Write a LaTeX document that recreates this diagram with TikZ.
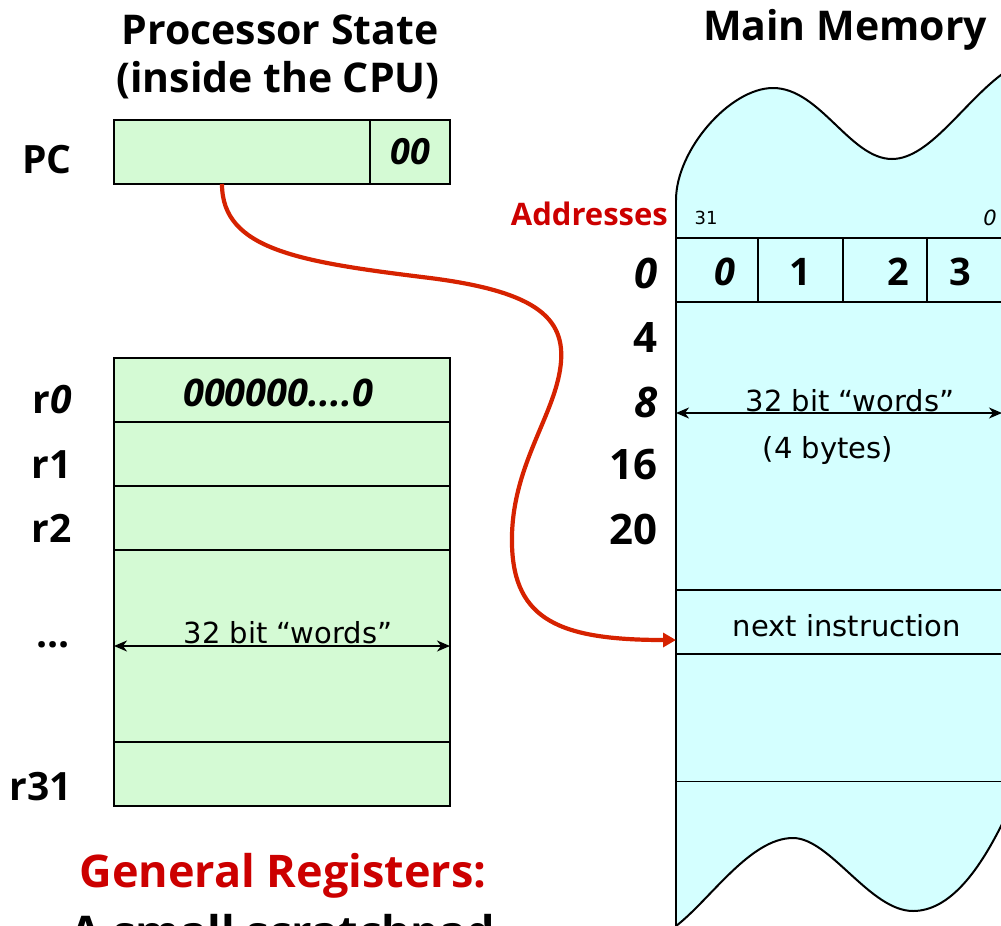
\documentclass[tikz,border=0pt]{standalone}
\usepackage{fontspec}
\setmainfont{Open Sans}
\newfontfamily\thinfont{DejaVu Sans}
\usetikzlibrary{arrows.meta}
\definecolor{regfill}{RGB}{212,250,212}
\definecolor{memfill}{RGB}{212,255,255}
\definecolor{redtxt}{RGB}{204,0,0}
\definecolor{redarrow}{RGB}{214,34,0}
\tikzset{
  cell/.style={draw, line width=2.2pt, fill=regfill, anchor=north west, inner sep=0pt, outer sep=0pt},
  mcell/.style={draw, line width=2pt, anchor=north west, inner sep=0pt, outer sep=0pt},
  title/.style={font=\bfseries\fontsize{41}{45}\selectfont},
  lbl/.style={font=\bfseries\fontsize{39}{43}\selectfont, anchor=east, inner sep=0pt},
  addr/.style={font=\bfseries\fontsize{42}{46}\selectfont, anchor=east, inner sep=0pt},
  thin/.style={font=\thinfont\fontsize{29}{32}\selectfont, inner sep=0pt},
  dim/.style={line width=1.6pt, {Stealth[length=13pt,width=11pt,inset=4pt]}-{Stealth[length=13pt,width=11pt,inset=4pt]}},
}
\begin{document}
\begin{tikzpicture}[x=1pt,y=-1pt]
\useasboundingbox (0,0) rectangle (1001,926);
\clip (0,0) rectangle (1001,926);

% titles
\node[title] (t1) at (280,30) {Processor State};
\node[title] (t2) at (278,80) {(inside the CPU)};
\node[title] (t3) at (845,30) {Main Memory};

% PC
\node[cell, minimum width=256pt, minimum height=64pt] (pc) at (114,120) {};
\node[cell, minimum width=80pt, minimum height=64pt] (pclow) at (370,120) {};
\node[font=\bfseries\itshape\fontsize{36}{40}\selectfont] (pcbits) at (pclow.center) {00};
\node[lbl] (pclbl) at (72,160) {PC};

% registers
\node[cell, minimum width=336pt, minimum height=64pt] (r0) at (114,358) {};
\node[cell, minimum width=336pt, minimum height=64pt] (r1) at (114,422) {};
\node[cell, minimum width=336pt, minimum height=64pt] (r2) at (114,486) {};
\node[cell, minimum width=336pt, minimum height=192pt] (rd) at (114,550) {};
\node[cell, minimum width=336pt, minimum height=64pt] (r31) at (114,742) {};
\node[font=\bfseries\itshape\fontsize{38}{42}\selectfont] (zeros) at (278,393) {000000....0};
\node[lbl] (l0) at (72,400) {r\textit{0}};
\node[lbl] (l1) at (72,465) {r1};
\node[lbl] (l2) at (72,528) {r2};
\node[lbl] (ld) at (70,645) {...};
\node[lbl] (l31) at (72,787) {r31};
\draw[dim] (rd.west) -- (rd.east);
\node[thin, anchor=base] (rw) at (288,643) {32 bit “words”};

\node[font=\bfseries\fontsize{45}{50}\selectfont, text=redtxt] (gr) at (283,876) {General Registers:};
\node[font=\bfseries\fontsize{45}{50}\selectfont, anchor=base] (gs) at (283,948) {A small scratchpad};

% main memory body
\fill[memfill] (676,200) .. controls (676,150) and (730,88) .. (773,88)
   .. controls (820,88) and (850,159) .. (892,159)
   .. controls (930,159) and (965,100) .. (1005,72)
   -- (1005,818)
   .. controls (980,870) and (950,911) .. (913,911)
   .. controls (870,911) and (830,838) .. (793,838)
   .. controls (750,838) and (710,900) .. (676,926) -- cycle;
\draw[line width=2pt] (676,200) .. controls (676,150) and (730,88) .. (773,88)
   .. controls (820,88) and (850,159) .. (892,159)
   .. controls (930,159) and (965,100) .. (1005,72);
\draw[line width=2pt] (1005,818)
   .. controls (980,870) and (950,911) .. (913,911)
   .. controls (870,911) and (830,838) .. (793,838)
   .. controls (750,838) and (710,900) .. (676,926);

\node[mcell, minimum width=82pt, minimum height=64pt] (b0) at (676,238) {};
\node[mcell, minimum width=85pt, minimum height=64pt] (b1) at (758,238) {};
\node[mcell, minimum width=84pt, minimum height=64pt] (b2) at (843,238) {};
\node[mcell, minimum width=90pt, minimum height=64pt] (b3) at (927,238) {};
\node[font=\bfseries\itshape\fontsize{38}{42}\selectfont] (bl0) at (725,272) {0};
\node[font=\bfseries\fontsize{38}{42}\selectfont] (bl1) at (800,272) {1};
\node[font=\bfseries\fontsize{38}{42}\selectfont] (bl2) at (898,272) {2};
\node[font=\bfseries\fontsize{38}{42}\selectfont] (bl3) at (960,272) {3};
\node[mcell, minimum width=340pt, minimum height=64pt] (ni) at (676,590) {};
\node[thin] (nit) at (847,626) {next instruction};
\coordinate (hl) at (676,781);
\coordinate (hr) at (1005,781);
\draw[line width=1pt] (hl) -- (hr);
\draw[line width=2.2pt] (676,198) -- (676,930);

\node[font=\thinfont\fontsize{18}{20}\selectfont] (b31) at (706,218) {31};
\node[font=\thinfont\itshape\fontsize{21}{24}\selectfont] (bz) at (990,218) {0};
\node[font=\bfseries\fontsize{31}{34}\selectfont, text=redtxt, anchor=east, inner sep=0pt] (adr) at (668,214) {Addresses};

\node[addr] (a0) at (658,273) {\textit{0}};
\node[addr] (a4) at (658,338) {4};
\node[addr] (a8) at (658,402) {\textit{8}};
\node[addr] (a16) at (658,465) {16};
\node[addr] (a20) at (658,529) {20};

\coordinate (mwl) at (676,413);
\coordinate (mwr) at (1002,413);
\draw[dim] (mwl) -- (mwr);
\node[thin, anchor=base] (mw) at (850,411) {32 bit “words”};
\node[thin] (mb) at (828,450) {(4 bytes)};

% red pointer
\draw[redarrow, line width=4.2pt, -{Triangle[length=13pt,width=14pt]}]
  ([xshift=-20pt]pc.south) .. controls (222,250) and (300,262) .. (430,278)
  .. controls (540,292) and (568,320) .. (560,370)
  .. controls (552,420) and (510,470) .. (512,545)
  .. controls (514,620) and (560,640) .. ([yshift=-18pt]ni.west);
\end{tikzpicture}
\end{document}
